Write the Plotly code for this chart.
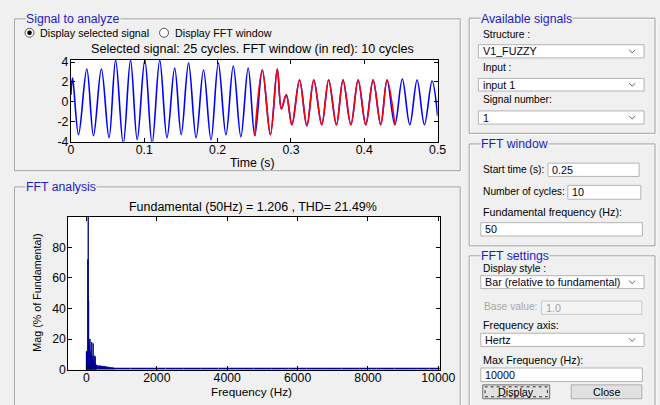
import plotly.graph_objects as go

# ---------------- data ----------------
# time signal: extrema (s, value)
sig_t = [0.0, 0.0023, 0.0104, 0.0217, 0.0308, 0.0416, 0.052, 0.0610, 0.0714, 0.0813,
         0.0904, 0.1008, 0.1107, 0.1211, 0.131, 0.1415, 0.1504, 0.1604, 0.1707, 0.1808,
         0.191, 0.201, 0.2114, 0.2214, 0.2317, 0.2417, 0.2507, 0.261, 0.272, 0.2814,
         0.2869, 0.2936, 0.3013, 0.3117, 0.3217, 0.3311, 0.342, 0.3514, 0.362, 0.371,
         0.3817, 0.3916, 0.402, 0.412, 0.4224, 0.431, 0.4417, 0.4518, 0.462, 0.472,
         0.482, 0.4924, 0.5]
sig_v = [0.7, 2.4, -3.3, 3.3, -3.4, 3.3, -3.6, 4.2, -4.2, 4.2,
         -3.8, 4.2, -4.2, 4.2, -3.6, 3.4, -3.3, 3.9, -3.6, 3.2,
         -3.8, 3.9, -3.3, 3.6, -3.5, 3.4, -3.4, 3.2, -3.3, 3.3,
         -0.7, 0.7, -2.3, 2.2, -2.4, 2.2, -2.3, 2.2, -2.3, 2.2,
         -2.3, 2.2, -2.3, 2.2, -2.3, 2.2, -2.3, 2.3, -2.3, 2.2,
         -2.3, 2.1, -1.4]
fft_window = (0.25, 0.45)

# spectrum (% of fundamental)
f_low = [0, 10, 20, 30, 40, 50, 60, 70, 80, 90, 100, 110, 120, 130, 140, 150,
         160, 170, 180, 190, 200, 210, 220, 230, 240, 250, 260, 270, 280, 290, 300]
m_low = [12, 11.5, 11, 10, 72, 100, 45, 20, 16, 14, 20, 12, 10, 8, 7, 18,
         9, 7, 6, 17, 6, 5, 9, 4, 3.5, 8.5, 3.5, 3, 3, 2.8, 2.7]
f_mid = [350, 400, 450, 500, 550, 600, 650, 700, 750]
m_mid = [2.5, 2.4, 2.2, 2.1, 1.9, 1.7, 1.5, 1.3, 1.2]
f_high = [1000, 1500, 2000, 2500, 3000, 3500, 4000, 4500, 5000, 5500,
          6000, 6500, 7000, 7500, 8000, 8500, 9000, 9500, 10000]
m_high = [1.1, 1.1, 1.0, 1.0, 1.0, 1.0, 1.0, 1.0, 1.0, 1.0,
          1.0, 1.0, 1.0, 1.0, 1.0, 1.0, 1.0, 1.0, 1.0]

time_ticks = [0, 0.1, 0.2, 0.3, 0.4, 0.5]
amp_ticks = [-4, -2, 0, 2, 4]
freq_ticks = [0, 2000, 4000, 6000, 8000, 10000]
mag_ticks = [0, 20, 40, 60, 80]

# ---------------- layout helpers ----------------
W, H = 660, 405          # reference pixel frame (positions below are in these px)
K = 1.0227               # figure size factor
FW, FH = round(W * K), round(H * K)
FONT = "Liberation Sans, Arial, sans-serif"
BLUE_T = "#1c1cc8"
BG = "#f0f0f0"


def X(px):
    return px / W


def Y(py):
    return 1 - py / H


def fs(s):
    return round(s * K, 2)


shapes = []
annots = []


def rect(x0, y0, x1, y1, line="#a0a0a0", fill=None, width=1, dash=None):
    d = dict(type="rect", xref="paper", yref="paper",
             x0=X(x0), x1=X(x1), y0=Y(y1), y1=Y(y0),
             line=dict(color=line, width=width), layer="above")
    if dash:
        d["line"]["dash"] = dash
    if fill:
        d["fillcolor"] = fill
    shapes.append(d)


def txt(x, y, s, size=10.5, color="black", xanchor="left", bg=None, angle=0):
    a = dict(x=X(x), y=Y(y), xref="paper", yref="paper", text=s, showarrow=False,
             xanchor=xanchor, yanchor="middle", textangle=angle,
             font=dict(family=FONT, size=fs(size), color=color))
    if bg:
        a["bgcolor"] = bg
        a["borderpad"] = 0
    annots.append(a)


def panel(x0, y0, x1, y1, title, tx):
    rect(x0 + 1, y0 + 1, x1 + 1, y1 + 1, line="white")
    rect(x0, y0, x1, y1, line="#a0a0a0")
    txt(tx, y0 + 0.5, title, size=12, color=BLUE_T, bg=BG)


def chevron(x, y):
    shapes.append(dict(type="path", xref="paper", yref="paper",
                       path=f"M {X(x-3)},{Y(y-1.5)} L {X(x)},{Y(y+1.5)} L {X(x+3)},{Y(y-1.5)}",
                       line=dict(color="#606060", width=1), layer="above"))


def editbox(x0, y0, x1, y1, s, popup=False, gray=False):
    rect(x0, y0, x1, y1, line="#b4b4b4" if not gray else "#c8c8c8",
         fill="white" if not gray else "#f4f4f4")
    txt(x0 + 2.5, (y0 + y1) / 2, s, size=10.5, color="#a0a0a0" if gray else "#000020")
    if popup:
        chevron(x1 - 12, (y0 + y1) / 2)


# panels
panel(11.7, 14, 460, 167, "Signal to analyze", 22)
panel(11.7, 183.3, 460, 404, "FFT analysis", 22)
panel(469, 13.3, 656, 129.3, "Available signals", 479.5)
panel(469, 140, 656, 242.7, "FFT window", 479.5)
panel(469, 252.7, 656, 406, "FFT settings", 479.5)

# radio buttons
shapes.append(dict(type="circle", xref="paper", yref="paper", x0=X(22.2), x1=X(31.2),
                   y0=Y(32.5), y1=Y(23.5), line=dict(color="#555555", width=1),
                   fillcolor="white", layer="above"))
shapes.append(dict(type="circle", xref="paper", yref="paper", x0=X(24.6), x1=X(28.8),
                   y0=Y(30.1), y1=Y(25.9), line=dict(color="black", width=0.5),
                   fillcolor="black", layer="above"))
shapes.append(dict(type="circle", xref="paper", yref="paper", x0=X(157.5), x1=X(166.5),
                   y0=Y(32.5), y1=Y(23.5), line=dict(color="#555555", width=1),
                   fillcolor="white", layer="above"))
txt(35.5, 28, "Display selected signal", size=10.5)
txt(171.5, 28, "Display FFT window", size=10.5)

# axes titles
txt(251.3, 44.3, "Selected signal: 25 cycles. FFT window (in red): 10 cycles",
    size=12.3, xanchor="center")
txt(251.2, 159.3, "Time (s)", size=12, xanchor="center")
txt(251.2, 203.3, "Fundamental (50Hz) = 1.206 , THD= 21.49%", size=12.2, xanchor="center")
txt(250.5, 389.5, "Frequency (Hz)", size=11.5, xanchor="center")
txt(34, 290, "Mag (% of Fundamental)", size=10.5, xanchor="center", angle=-90)

# Available signals widgets
txt(480.7, 29.3, "Structure :", size=10)
editbox(478.3, 40, 645, 53.3, "V1_FUZZY", popup=True)
txt(480.7, 63.3, "Input :", size=10)
editbox(478.3, 74, 645, 86.7, "input 1", popup=True)
txt(480.7, 95.7, "Signal number:", size=10)
editbox(478.3, 106.7, 645, 120, "1", popup=True)

# FFT window widgets
txt(480.7, 165.7, "Start time (s):", size=10)
editbox(548.3, 159.3, 640, 172.7, "0.25")
txt(480.7, 188.3, "Number of cycles:", size=10)
editbox(568.3, 181.7, 641.7, 195.7, "10")
txt(480.7, 209, "Fundamental frequency (Hz):", size=10.5)
editbox(480.7, 219.3, 643.3, 232.7, "50")

# FFT settings widgets
txt(480.7, 265.5, "Display style :", size=10)
editbox(480.7, 272.7, 645, 285.7, "Bar (relative to fundamental)", popup=True)
txt(481.5, 303.3, "Base value:", size=10, color="#a8a8a8")
editbox(541.7, 298.3, 642.7, 311.7, "1.0", gray=True)
txt(480.7, 322.3, "Frequency axis:", size=10.5)
editbox(480.7, 330.7, 645, 344, "Hertz", popup=True)
txt(480.7, 357.3, "Max Frequency (Hz):", size=10.5)
editbox(480.7, 365.7, 643.3, 379.3, "10000")

# buttons
rect(482.7, 382.7, 550, 396.7, line="#707070", fill="#e1e1e1")
rect(485, 384.7, 547.7, 394.7, line="#303030", width=1, dash="dot")
txt(516.3, 389.7, "Display", size=10.5, xanchor="center")
rect(571.7, 382.7, 642.7, 396.7, line="#adadad", fill="#e1e1e1")
txt(607.2, 389.7, "Close", size=10.5, xanchor="center")

# ---------------- traces ----------------
fig = go.Figure()
fig.add_trace(go.Scatter(x=sig_t, y=sig_v, mode="lines",
                         line=dict(color="#0000ff", width=1.6, shape="spline", smoothing=1),
                         xaxis="x", yaxis="y", hoverinfo="skip"))
red_t = [t for t in sig_t if fft_window[0] <= t <= fft_window[1]]
red_v = [v for t, v in zip(sig_t, sig_v) if fft_window[0] <= t <= fft_window[1]]
fig.add_trace(go.Scatter(x=red_t, y=red_v, mode="lines",
                         line=dict(color="#ff0000", width=1.6, shape="spline", smoothing=1),
                         xaxis="x", yaxis="y", hoverinfo="skip"))

NAVY = "#00008f"
fig.add_trace(go.Bar(x=f_high, y=m_high, width=500, marker=dict(color=NAVY, line=dict(width=0)),
                     xaxis="x2", yaxis="y2"))
fig.add_trace(go.Bar(x=f_mid, y=m_mid, width=50, marker=dict(color=NAVY, line=dict(color=NAVY, width=0.6)),
                     xaxis="x2", yaxis="y2"))
fig.add_trace(go.Bar(x=f_low, y=m_low, width=10, marker=dict(color=NAVY, line=dict(color=NAVY, width=0.8)),
                     xaxis="x2", yaxis="y2"))

ax = dict(showline=True, linecolor="black", linewidth=1, mirror="allticks", ticks="inside",
          ticklen=4, tickcolor="black", showgrid=False, zeroline=False,
          tickfont=dict(family=FONT, size=fs(12), color="black"))

fig.update_layout(
    width=FW, height=FH, margin=dict(l=0, r=0, t=0, b=0),
    paper_bgcolor=BG, plot_bgcolor="white", showlegend=False, barmode="overlay",
    xaxis=dict(ax, domain=[X(68.3), X(437.3)], range=[0, 0.5], tickvals=time_ticks,
               ticktext=[f"{v:g}" for v in time_ticks], anchor="y", ticklabelstandoff=-3),
    yaxis=dict(ax, domain=[Y(137.7), Y(55.5)], range=[-4, 4.2], tickvals=amp_ticks,
               ticktext=[f"{v:g}" for v in amp_ticks], anchor="x", ticklabelstandoff=-1),
    xaxis2=dict(ax, domain=[X(65.7), X(439.3)], range=[-516, 10037], tickvals=freq_ticks,
                ticktext=[str(v) for v in freq_ticks], anchor="y2", ticklabelstandoff=-3),
    yaxis2=dict(ax, domain=[Y(367.3), Y(213.3)], range=[0, 100], tickvals=mag_ticks,
                ticktext=[str(v) for v in mag_ticks], anchor="x2", ticklabelstandoff=-1),
    shapes=shapes, annotations=annots,
)

post = ("document.documentElement.style.margin='0';"
        "document.documentElement.style.background='#f0f0f0';"
        "document.body.style.margin='0';document.body.style.background='#f0f0f0';")
fig.write_html("out.html", config={"displayModeBar": False}, post_script=post)
